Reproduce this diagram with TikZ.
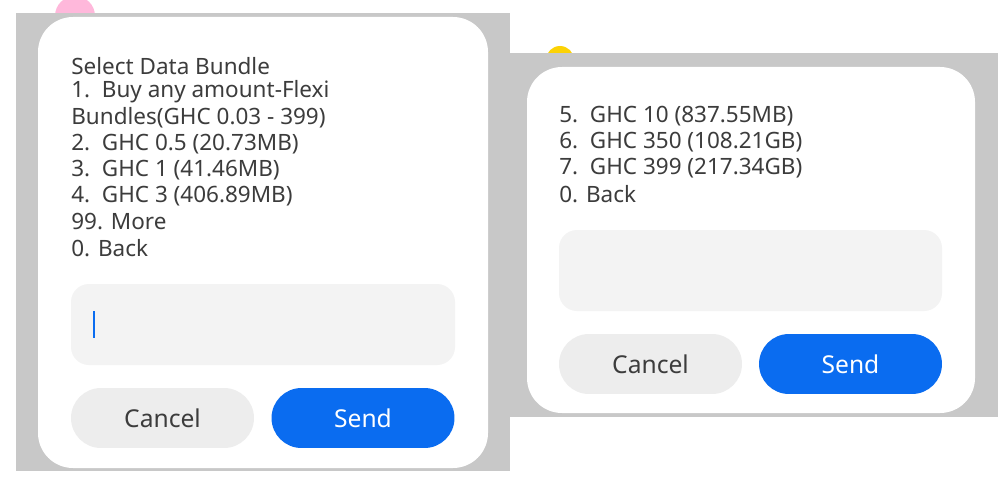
\documentclass[tikz,border=0pt]{standalone}
\usepackage{fontspec}
\setmainfont{Noto Sans}
\usetikzlibrary{positioning}
\definecolor{backgray}{RGB}{200,200,200}
\definecolor{field}{RGB}{243,243,243}
\definecolor{cancelbg}{RGB}{237,237,237}
\definecolor{sendbg}{RGB}{10,108,240}
\definecolor{ink}{RGB}{60,60,60}
\tikzset{
         mydialog/.style={fill=white, rounded corners=0.7cm},
         myfield/.style={fill=field, rounded corners=0.36cm},
         myline/.style={anchor=west, inner sep=0pt, text=ink, font=\fontsize{12.8}{15}\selectfont},
         mybtn/.style={rounded corners=0.6cm, minimum height=1.2cm, minimum width=3.66cm, font=\fontsize{14}{16}\selectfont, inner sep=0pt}
      }
\begin{document}
\begin{tikzpicture}[x=0.02cm,y=-0.02cm]
   \useasboundingbox (0,0) rectangle (1000,500);
   % backgrounds
   \fill[backgray] (16,13) rectangle (510,471);
   \fill[backgray] (510,53) rectangle (998,417);
   \begin{scope}
      \clip (16,0) rectangle (510,13);
      \fill[pink!80!magenta!70] (75,16) circle (20);
   \end{scope}
   \begin{scope}
      \clip (510,0) rectangle (998,53);
      \fill[yellow!70!orange] (560,60) circle (14);
   \end{scope}
   % left dialog
   \fill[mydialog] (38,17) rectangle (488,468);
   \node[myline] (l0) at (71,66) {Select Data Bundle};
   \node[myline] (l1) at (71,92) {1.\ \ Buy any amount-Flexi};
   \node[myline] (l2) at (71,118) {Bundles(GHC 0.03 - 399)};
   \node[myline] (l3) at (71,144) {2.\ \ GHC 0.5 (20.73MB)};
   \node[myline] (l4) at (71,170) {3.\ \ GHC 1 (41.46MB)};
   \node[myline] (l5) at (71,196) {4.\ \ GHC 3 (406.89MB)};
   \node[myline] (l6) at (71,222) {99. More};
   \node[myline] (l7) at (71,248) {0. Back};
   \fill[myfield] (71,284) rectangle (455,365);
   \draw[sendbg, line width=1.2pt] (94,311) -- (94,338);
   \node[mybtn, fill=cancelbg, text=ink] (cancel1) at (162.5,418) {Cancel};
   \node[mybtn, fill=sendbg, text=white] (send1) at (363,418) {Send};
   % right dialog
   \fill[mydialog] (527,67) rectangle (975,413);
   \node[myline] (r0) at (559,116) {5.\ \ GHC 10 (837.55MB)};
   \node[myline] (r1) at (559,142) {6.\ \ GHC 350 (108.21GB)};
   \node[myline] (r2) at (559,168) {7.\ \ GHC 399 (217.34GB)};
   \node[myline] (r3) at (559,194) {0. Back};
   \fill[myfield] (559,230) rectangle (942,311);
   \node[mybtn, fill=cancelbg, text=ink] (cancel2) at (650.5,364) {Cancel};
   \node[mybtn, fill=sendbg, text=white] (send2) at (850.5,364) {Send};
\end{tikzpicture}
\end{document}
